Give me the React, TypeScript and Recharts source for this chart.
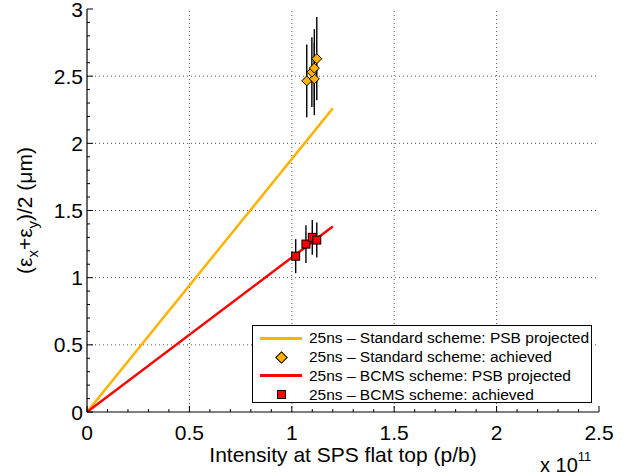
import React from 'react';
import {
  ComposedChart,
  Line,
  Scatter,
  ErrorBar,
  XAxis,
  YAxis,
  ReferenceLine,
  Label,
} from 'recharts';

// projected emittance lines (x in units of 1e11 p/b)
const standardProjected = [
  { x: 0, y: 0 },
  { x: 1.2, y: 2.26 },
];
const bcmsProjected = [
  { x: 0, y: 0 },
  { x: 1.2, y: 1.38 },
];

// measured points with vertical error
const standardAchieved = [
  { x: 1.073, y: 2.465, err: 0.27 },
  { x: 1.11, y: 2.48, err: 0.27 },
  { x: 1.098, y: 2.53, err: 0.26 },
  { x: 1.11, y: 2.56, err: 0.29 },
  { x: 1.122, y: 2.63, err: 0.31 },
];
const bcmsAchieved = [
  { x: 1.019, y: 1.16, err: 0.127 },
  { x: 1.069, y: 1.25, err: 0.14 },
  { x: 1.1, y: 1.3, err: 0.13 },
  { x: 1.122, y: 1.28, err: 0.13 },
];

const xMajor = [0, 0.5, 1, 1.5, 2, 2.5];
const yMajor = [0, 0.5, 1, 1.5, 2, 2.5, 3];
const xTicks = Array.from({ length: 26 }, (_, i) => +(i * 0.1).toFixed(1));
const yTicks = Array.from({ length: 31 }, (_, i) => +(i * 0.1).toFixed(1));

const legendItems = [
  { label: '25ns \u2013 Standard scheme: PSB projected', kind: 'line', color: '#FFB300' },
  { label: '25ns \u2013 Standard scheme: achieved', kind: 'diamond', color: '#FFB300' },
  { label: '25ns \u2013 BCMS scheme: PSB projected', kind: 'line', color: '#FF0000' },
  { label: '25ns \u2013 BCMS scheme: achieved', kind: 'square', color: '#FF0000' },
];

const FONT = '"Liberation Sans", Arial, Helvetica, sans-serif';
const TICK_FS = 21;
const MARGIN = 8;
const MAJOR_LEN = 6;
const MINOR_LEN = 3;

const isMajor = (v: number) => Math.abs(v * 2 - Math.round(v * 2)) < 1e-6;

function BottomTick(props: any) {
  const { x, y, payload } = props;
  const axisY = y - MARGIN;
  const major = isMajor(payload.value);
  return (
    <g>
      <line x1={x} y1={axisY} x2={x} y2={axisY - (major ? MAJOR_LEN : MINOR_LEN)} stroke="#000" />
      {major && (
        <text x={x} y={y + 20} textAnchor="middle" fontSize={TICK_FS} fontFamily={FONT} fill="#000">
          {payload.value}
        </text>
      )}
    </g>
  );
}

function TopTick(props: any) {
  const { x, y, payload } = props;
  const axisY = y + MARGIN;
  const major = isMajor(payload.value);
  return <line x1={x} y1={axisY} x2={x} y2={axisY + (major ? MAJOR_LEN : MINOR_LEN)} stroke="#000" />;
}

function LeftTick(props: any) {
  const { x, y, payload } = props;
  const axisX = x + MARGIN;
  const major = isMajor(payload.value);
  return (
    <g>
      <line x1={axisX} y1={y} x2={axisX + (major ? MAJOR_LEN : MINOR_LEN)} y2={y} stroke="#000" />
      {major && (
        <text x={x + 4} y={y} dy="0.36em" textAnchor="end" fontSize={TICK_FS} fontFamily={FONT} fill="#000">
          {payload.value}
        </text>
      )}
    </g>
  );
}

function RightTick(props: any) {
  const { x, y, payload } = props;
  const axisX = x - MARGIN;
  const major = isMajor(payload.value);
  return <line x1={axisX} y1={y} x2={axisX - (major ? MAJOR_LEN : MINOR_LEN)} y2={y} stroke="#000" />;
}

const Diamond = (props: any) => {
  const { cx, cy } = props;
  const r = 5;
  return (
    <path
      d={`M${cx},${cy - r}L${cx + r},${cy}L${cx},${cy + r}L${cx - r},${cy}Z`}
      fill="#FFB300"
      stroke="#000"
      strokeWidth={1}
    />
  );
};

const Square = (props: any) => {
  const { cx, cy } = props;
  const r = 4;
  return <rect x={cx - r} y={cy - r} width={2 * r} height={2 * r} fill="#FF0000" stroke="#000" strokeWidth={1} />;
};

const YTitle = (props: any) => {
  const { viewBox } = props;
  const cx = viewBox.x + 32;
  const cy = viewBox.y + viewBox.height / 2;
  return (
    <text
      x={cx}
      y={cy}
      transform={`rotate(-90 ${cx} ${cy})`}
      textAnchor="middle"
      fontSize={21}
      fontFamily={FONT}
      fill="#000"
    >
      <tspan>({'\u03B5'}</tspan>
      <tspan fontSize={15} dy={6}>x</tspan>
      <tspan dy={-6}>+{'\u03B5'}</tspan>
      <tspan fontSize={15} dy={6}>y</tspan>
      <tspan dy={-6}>)/2 ({'\u03BC'}m)</tspan>
    </text>
  );
};

const XTitle = (props: any) => {
  const { viewBox } = props;
  const cx = viewBox.x + viewBox.width / 2;
  return (
    <g fontFamily={FONT} fill="#000">
      <text x={cx} y={viewBox.y + 50} textAnchor="middle" fontSize={21}>
        Intensity at SPS flat top (p/b)
      </text>
      <text x={viewBox.x + viewBox.width - 59} y={viewBox.y + 60} fontSize={20}>
        x 10<tspan fontSize={13} dy={-11}>11</tspan>
      </text>
    </g>
  );
};

function LegendBox() {
  return (
    <div
      style={{
        position: 'absolute',
        left: 252,
        top: 325,
        width: 340,
        height: 78,
        border: '1.5px solid #000',
        background: '#fff',
        fontFamily: FONT,
        fontSize: 15.5,
        paddingTop: 3,
        boxSizing: 'border-box',
      }}
    >
      {legendItems.map((item) => (
        <div key={item.label} style={{ display: 'flex', alignItems: 'center', height: 18.8 }}>
          <span style={{ width: 56, display: 'flex', justifyContent: 'center' }}>
            {item.kind === 'line' && (
              <span style={{ width: 42, height: 3, background: item.color }} />
            )}
            {item.kind === 'diamond' && (
              <span
                style={{
                  width: 7,
                  height: 7,
                  background: item.color,
                  border: '1px solid #000',
                  transform: 'rotate(45deg)',
                }}
              />
            )}
            {item.kind === 'square' && (
              <span style={{ width: 7, height: 7, background: item.color, border: '1px solid #000' }} />
            )}
          </span>
          <span style={{ whiteSpace: 'nowrap' }}>{item.label}</span>
        </div>
      ))}
    </div>
  );
}

export default function App() {
  return (
    <div style={{ position: 'absolute', left: 0, top: 0, width: 626, height: 476, background: '#fff' }}>
      <ComposedChart width={626} height={476} margin={{ top: 9, right: 27, bottom: 0, left: 0 }}>
        <XAxis
          xAxisId="b"
          type="number"
          dataKey="x"
          domain={[0, 2.5]}
          ticks={xTicks}
          interval={0}
          height={64}
          tickSize={0}
          tickMargin={MARGIN}
          tickLine={false}
          tick={<BottomTick />}
          axisLine={{ stroke: '#000', strokeWidth: 1.2 }}
          allowDataOverflow
        >
          <Label content={<XTitle />} />
        </XAxis>
        <XAxis
          xAxisId="t"
          orientation="top"
          type="number"
          dataKey="x"
          domain={[0, 2.5]}
          ticks={xTicks}
          interval={0}
          height={0}
          tickSize={0}
          tickMargin={MARGIN}
          tickLine={false}
          tick={<TopTick />}
          axisLine={{ stroke: '#000', strokeWidth: 1.2 }}
          allowDataOverflow
        />
        <YAxis
          yAxisId="l"
          type="number"
          domain={[0, 3]}
          ticks={yTicks}
          interval={0}
          width={87}
          tickSize={0}
          tickMargin={MARGIN}
          tickLine={false}
          tick={<LeftTick />}
          axisLine={{ stroke: '#000', strokeWidth: 1.2 }}
          allowDataOverflow
        >
          <Label content={<YTitle />} />
        </YAxis>
        <YAxis
          yAxisId="r"
          orientation="right"
          type="number"
          domain={[0, 3]}
          ticks={yTicks}
          interval={0}
          width={0}
          tickSize={0}
          tickMargin={MARGIN}
          tickLine={false}
          tick={<RightTick />}
          axisLine={{ stroke: '#000', strokeWidth: 1.2 }}
          allowDataOverflow
        />

        {xMajor.slice(1, -1).map((v) => (
          <ReferenceLine key={`gx${v}`} xAxisId="b" yAxisId="l" x={v} stroke="#555" strokeDasharray="1 3" />
        ))}
        {yMajor.slice(1, -1).map((v) => (
          <ReferenceLine key={`gy${v}`} xAxisId="b" yAxisId="l" y={v} stroke="#555" strokeDasharray="1 3" />
        ))}

        <Line
          xAxisId="b"
          yAxisId="l"
          data={standardProjected}
          dataKey="y"
          type="linear"
          stroke="#FFB300"
          strokeWidth={2.5}
          dot={false}
          isAnimationActive={false}
        />
        <Line
          xAxisId="b"
          yAxisId="l"
          data={bcmsProjected}
          dataKey="y"
          type="linear"
          stroke="#FF0000"
          strokeWidth={2.5}
          dot={false}
          isAnimationActive={false}
        />
        <Scatter
          xAxisId="b"
          yAxisId="l"
          data={standardAchieved}
          dataKey="y"
          shape={<Diamond />}
          isAnimationActive={false}
        >
          <ErrorBar dataKey="err" direction="y" width={0} stroke="#000" strokeWidth={1.4} />
        </Scatter>
        <Scatter
          xAxisId="b"
          yAxisId="l"
          data={bcmsAchieved}
          dataKey="y"
          shape={<Square />}
          isAnimationActive={false}
        >
          <ErrorBar dataKey="err" direction="y" width={0} stroke="#000" strokeWidth={1.4} />
        </Scatter>
      </ComposedChart>
      <LegendBox />
    </div>
  );
}
